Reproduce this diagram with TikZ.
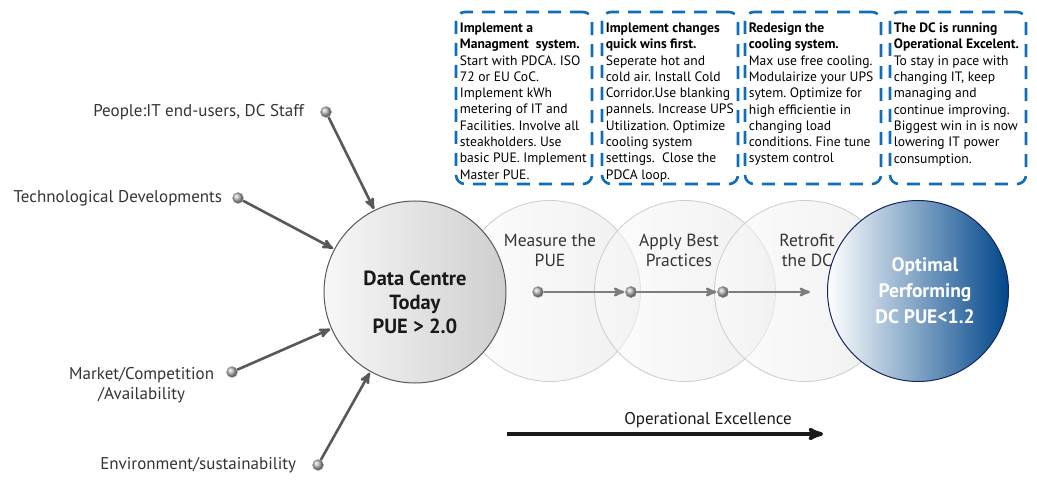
\documentclass[tikz,border=0pt]{standalone}
\usepackage{fontspec}
\setmainfont{PT Sans}
\usetikzlibrary{arrows,positioning,shadings}
\definecolor{boxblue}{RGB}{16,110,185}
\definecolor{arrowgray}{RGB}{88,88,90}
\definecolor{midgray}{RGB}{125,125,127}
\definecolor{optblue}{RGB}{0,70,138}
\definecolor{optline}{RGB}{22,36,96}
\definecolor{txtgray}{RGB}{52,52,54}
\frenchspacing

\begin{document}
\begin{tikzpicture}[x=1pt,y=-1pt,>=stealth',shorten >= 1pt,
  dbox/.style={draw=boxblue,line width=2.6pt,dash pattern=on 13pt off 9pt,
    rounded corners=9pt,minimum width=136pt,minimum height=172pt},
  btxt/.style={anchor=north west,align=left,inner sep=0pt,
    font=\fontsize{13.6}{16.3}\selectfont},
  lbl/.style={text=txtgray,font=\fontsize{17}{20}\selectfont,inner sep=2pt},
  ptxt/.style={text=txtgray,align=center,font=\fontsize{17.5}{20}\selectfont},
  phase/.style={circle,minimum size=181pt,draw=gray!40,line width=0.8pt,
    shade,left color=gray!3,right color=gray!22,fill opacity=0.55},
  dot/.style={circle,inner sep=0pt,minimum size=11pt,ball color=gray!55,
    draw=gray!75,line width=0.4pt},
  inarrow/.style={->,draw=arrowgray,line width=2.6pt},
  steparrow/.style={->,draw=midgray,line width=2.4pt}]
  \useasboundingbox (0,0) rectangle (1037,481);

  % action boxes
  \node[dbox] (b1) at (524,98) {};
  \node[dbox] (b2) at (670,98) {};
  \node[dbox] (b3) at (813,98) {};
  \node[dbox] (b4) at (958,98) {};
  \node[btxt] at ([xshift=5pt,yshift=-12pt]b1.north west)
    {\textbf{Implement a}\\ \textbf{Managment\ \ system.}\\ Start with PDCA. ISO\\
     72 or EU CoC.\\ Implement kWh\\ metering of IT and\\ Facilities. Involve all\\
     steakholders. Use\\ basic PUE. Implement\\ Master PUE.};
  \node[btxt] at ([xshift=5pt,yshift=-12pt]b2.north west)
    {\textbf{Implement changes}\\ \textbf{quick wins first.}\\ Seperate hot and\\
     cold air. Install Cold\\ Corridor.Use blanking\\ pannels. Increase UPS\\
     Utilization. Optimize\\ cooling system\\ settings.\ \ Close the\\ PDCA loop.};
  \node[btxt] at ([xshift=5pt,yshift=-12pt]b3.north west)
    {\textbf{Redesign the}\\ \textbf{cooling system.}\\ Max use free cooling.\\
     Modulairize your UPS\\ sytem. Optimize for\\ high efficientie in\\
     changing load\\ conditions. Fine tune\\ system control};
  \node[btxt] at ([xshift=5pt,yshift=-12pt]b4.north west)
    {\textbf{The DC is running}\\ \textbf{Operational Excelent.}\\ To stay in pace with\\
     changing IT, keep\\ managing and\\ continue improving.\\ Biggest win in is now\\
     lowering IT power\\ consumption.};

  % phases
  \node[phase] (meas) at (550,291) {};
  \node[phase] (appl) at (685,291) {};
  \node[phase] (retro) at (805,291) {};
  \node[ptxt] at ([yshift=41pt]meas.center) {Measure the\\ PUE};
  \node[ptxt] at ([xshift=-6pt,yshift=41pt]appl.center) {Apply Best\\ Practices};
  \node[ptxt] at ([xshift=2pt,yshift=41pt]retro.center) {Retrofit\\ the DC};

  \node[circle,minimum size=182pt,draw=gray!70!black,line width=1pt,shade,
    left color=gray!6,right color=gray!38] (dc) at (415,292) {};
  \node[align=center,font=\fontsize{20.5}{24}\selectfont\bfseries,text=black!90]
    at ([yshift=-10pt]dc.center) {Data Centre\\ Today\\ PUE > 2.0};

  \node[circle,minimum size=181pt,draw=optline,line width=1pt,shade,
    left color=white,right color=optblue] (opt) at (918,291) {};
  \node[align=center,font=\fontsize{19.5}{26}\selectfont\bfseries,text=white]
    at ([xshift=7pt]opt.center) {Optimal\\ Performing\\ DC PUE<1.2};

  % influences
  \node[dot] (ppl) at (326,112) {};
  \node[dot] (tech) at (238,198) {};
  \node[dot] (mkt) at (232,372) {};
  \node[dot] (env) at (318,465) {};
  \node[lbl,left=14pt of ppl] {People:IT end-users, DC Staff};
  \node[lbl,left=8pt of tech] {Technological Developments};
  \node[lbl,align=center,left=10pt of mkt,yshift=-13pt] {Market/Competition\\ /Availability};
  \node[lbl,left=14pt of env] {Environment/sustainability};
  \path[inarrow]
  (ppl) edge (dc)
  (tech) edge (dc)
  (mkt) edge (dc)
  (env) edge (dc);

  % steps
  \node[dot] (s1) at (538,292) {};
  \node[dot] (s2) at (631,292) {};
  \node[dot] (s3) at (723,292) {};
  \coordinate (s4) at (811,292);
  \path[steparrow]
  (s1) edge (s2)
  (s2) edge (s3)
  (s3) edge (s4);
  \node[dot] at (s2) {};
  \node[dot] at (s3) {};

  % operational excellence
  \coordinate (oe1) at (507,434);
  \coordinate (oe2) at (824,434);
  \draw[->,line width=3.6pt,black!90] (oe1) -- (oe2);
  \node[lbl,text=black!90] at (708,420) {Operational Excellence};
\end{tikzpicture}
\end{document}
